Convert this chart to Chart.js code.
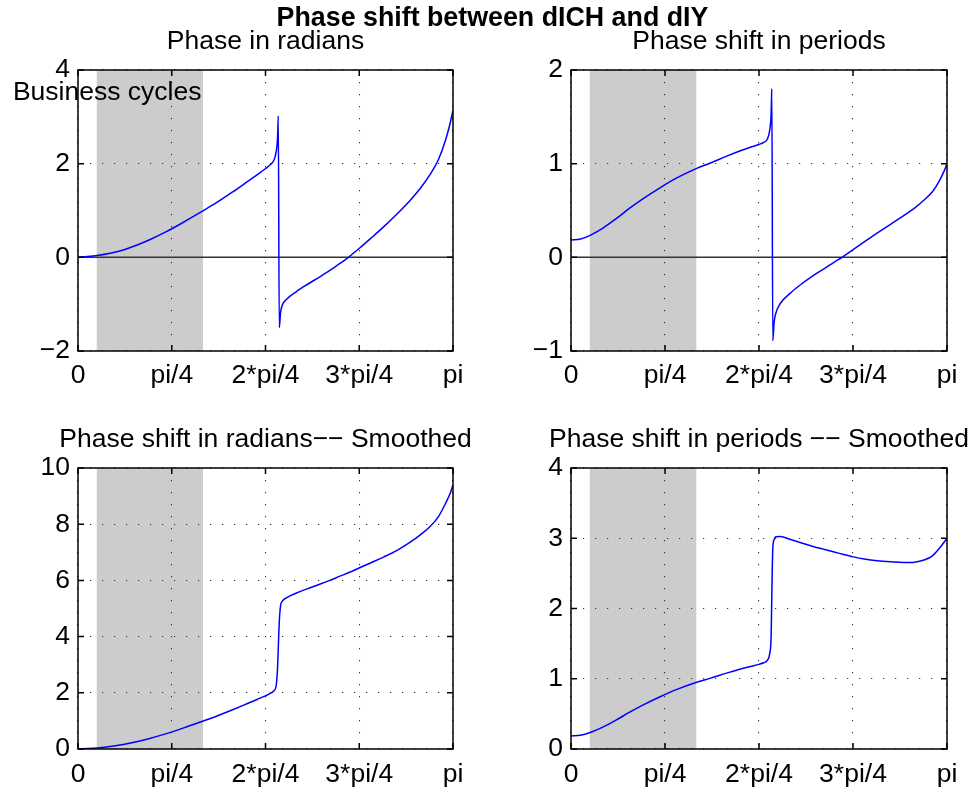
<!DOCTYPE html>
<html>
<head>
<meta charset="utf-8">
<script src="https://cdn.jsdelivr.net/npm/chart.js@4.4.1/dist/chart.umd.min.js"></script>
<style>
  body { margin: 0; background: #fff; }
  #fig { position: relative; width: 973px; height: 793px; overflow: hidden;
         font-family: 'Liberation Sans', Arial, Helvetica, sans-serif; }
  .panel { position: absolute; }
  #suptitle { position: absolute; left: 12px; width: 961px; top: 4px; text-align: center;
              font-weight: bold; font-size: 26.8px; line-height: 26px; color: #000; }
</style>
</head>
<body>
<div id="fig">
  <div class="panel" style="left:0;top:22px"><canvas id="c1" width="486" height="378"></canvas></div>
  <div class="panel" style="left:493px;top:22px"><canvas id="c2" width="480" height="378"></canvas></div>
  <div class="panel" style="left:0;top:420px"><canvas id="c3" width="486" height="373"></canvas></div>
  <div class="panel" style="left:493px;top:420px"><canvas id="c4" width="480" height="373"></canvas></div>
  <div id="suptitle">Phase shift between dICH and dIY</div>
</div>
<script>
// frequencies (radians), denser around the jump near 2*pi/4
const freq = [0, 0.08, 0.16, 0.27, 0.38, 0.49, 0.60, 0.74, 0.88, 1.05,
              1.16, 1.30, 1.41, 1.50, 1.57, 1.61, 1.64, 1.66, 1.672, 1.678,
              1.686, 1.697, 1.71, 1.75, 1.83, 1.92, 2.03, 2.11, 2.20, 2.265,
              2.36, 2.45, 2.56, 2.67, 2.78, 2.87, 2.95, 3.02, 3.08, 3.12, 3.1416];

const xTickValues = [0, Math.PI / 4, Math.PI / 2, 3 * Math.PI / 4, Math.PI];
const xTickLabels = ['0', 'pi/4', '2*pi/4', '3*pi/4', 'pi'];

// business cycle frequency band (shaded)
const cycleBand = [0.157, 1.047];

const phaseRad = [0, 0.0156, 0.0376, 0.085, 0.158, 0.257, 0.375, 0.548, 0.744, 0.998,
                  1.166, 1.404, 1.60, 1.763, 1.892, 1.977, 2.066, 2.25, 2.55, 3.02,
                  -1.50, -1.18, -1.03, -0.89, -0.73, -0.58, -0.41, -0.28, -0.12, 0,
                  0.20, 0.40, 0.65, 0.92, 1.21, 1.48, 1.77, 2.09, 2.51, 2.89, 3.14];

const phasePeriods = [0.185, 0.195, 0.235, 0.315, 0.415, 0.525, 0.625, 0.74, 0.845, 0.95,
                      1.005, 1.08, 1.135, 1.175, 1.205, 1.228, 1.26, 1.355, 1.525, 1.80,
                      -0.89, -0.695, -0.602, -0.49, -0.385, -0.29, -0.19, -0.125, -0.05, 0,
                      0.085, 0.165, 0.26, 0.352, 0.445, 0.525, 0.612, 0.70, 0.822, 0.928, 1.0];

const smoothRad = [0, 0.0156, 0.0376, 0.085, 0.158, 0.257, 0.375, 0.548, 0.744, 0.998,
                   1.166, 1.404, 1.60, 1.763, 1.892, 1.977, 2.066, 2.25, 2.9, 3.6,
                   4.5, 5.1, 5.25, 5.39, 5.55, 5.70, 5.87, 6.0, 6.16, 6.27,
                   6.45, 6.62, 6.83, 7.06, 7.35, 7.63, 7.92, 8.27, 8.75, 9.12, 9.4];

const smoothPeriods = [0.185, 0.195, 0.235, 0.315, 0.415, 0.525, 0.625, 0.74, 0.845, 0.95,
                       1.005, 1.08, 1.135, 1.175, 1.205, 1.228, 1.26, 1.355, 1.6, 2.2,
                       2.85, 2.98, 3.02, 3.025, 2.985, 2.935, 2.88, 2.845, 2.805, 2.775,
                       2.735, 2.705, 2.68, 2.665, 2.655, 2.66, 2.69, 2.75, 2.86, 2.95, 3.0];

const FONT = "'Liberation Sans', Arial, Helvetica, sans-serif";
const FONT_SIZE = 26.5;

// grey band under the grid
const bandPlugin = {
  id: 'band',
  beforeDraw(chart) {
    const { ctx, chartArea: a, scales: { x } } = chart;
    const x0 = x.getPixelForValue(cycleBand[0]);
    const x1 = x.getPixelForValue(cycleBand[1]);
    ctx.save();
    ctx.fillStyle = '#cccccc';
    ctx.fillRect(x0, a.top, x1 - x0, a.bottom - a.top);
    ctx.restore();
  }
};

// closed box with inward tick marks, panel title and optional text note
const boxPlugin = {
  id: 'box',
  afterDraw(chart, args, opts) {
    const { ctx, chartArea: a, scales: { x, y } } = chart;
    const tl = 6;
    ctx.save();
    ctx.strokeStyle = '#000';
    ctx.lineWidth = 1.5;
    ctx.strokeRect(a.left, a.top, a.right - a.left, a.bottom - a.top);
    ctx.beginPath();
    x.ticks.forEach(t => {
      const px = x.getPixelForValue(t.value);
      ctx.moveTo(px, a.bottom); ctx.lineTo(px, a.bottom - tl);
      ctx.moveTo(px, a.top); ctx.lineTo(px, a.top + tl);
    });
    y.ticks.forEach(t => {
      const py = y.getPixelForValue(t.value);
      ctx.moveTo(a.left, py); ctx.lineTo(a.left + tl, py);
      ctx.moveTo(a.right, py); ctx.lineTo(a.right - tl, py);
    });
    ctx.stroke();

    ctx.fillStyle = '#000';
    ctx.font = FONT_SIZE + 'px ' + FONT;
    ctx.textBaseline = 'alphabetic';
    // title centred over the axes box
    ctx.textAlign = 'center';
    ctx.fillText(opts.title, (a.left + a.right) / 2, opts.titleY);
    if (opts.note) {
      ctx.textAlign = 'left';
      ctx.fillText(opts.note.text, x.getPixelForValue(opts.note.x), y.getPixelForValue(opts.note.y));
    }
    ctx.restore();
  }
};

function makePanel(id, title, values, yMin, yMax, yStep, opt) {
  const datasets = [{
    data: freq.map((f, i) => ({ x: f, y: values[i] })),
    borderColor: '#0000ff',
    borderWidth: 1.5,
    pointRadius: 0,
    cubicInterpolationMode: 'monotone',
    fill: false
  }];
  if (opt.zeroLine) {
    datasets.push({
      data: [{ x: 0, y: 0 }, { x: Math.PI, y: 0 }],
      borderColor: '#333',
      borderWidth: 1.5,
      pointRadius: 0,
      fill: false
    });
  }
  new Chart(document.getElementById(id), {
    type: 'line',
    data: { datasets },
    plugins: [bandPlugin, boxPlugin],
    options: {
      responsive: false,
      animation: false,
      devicePixelRatio: 1,
      layout: { padding: { top: 48, left: 0, right: opt.padRight, bottom: 0 } },
      plugins: {
        legend: { display: false },
        tooltip: { enabled: false },
        title: { display: false },
        box: { title: title, titleY: opt.titleY, note: opt.note || null }
      },
      scales: {
        x: {
          type: 'linear',
          min: 0,
          max: Math.PI,
          afterBuildTicks: s => { s.ticks = xTickValues.map(v => ({ value: v })); },
          afterFit: s => { s.height = opt.xHeight; },
          ticks: {
            autoSkip: false,
            maxRotation: 0,
            padding: opt.xPad,
            color: '#000',
            font: { family: FONT, size: FONT_SIZE },
            callback: (v, i) => xTickLabels[i]
          },
          grid: { color: '#333', lineWidth: 1.1, drawTicks: false },
          border: { display: false, dash: [1.2, 10.8] }
        },
        y: {
          min: yMin,
          max: yMax,
          afterFit: s => { s.width = 78; },
          ticks: {
            stepSize: yStep,
            padding: 8,
            color: '#000',
            font: { family: FONT, size: FONT_SIZE },
            callback: v => String(v).replace('-', '\u2212')
          },
          grid: { color: '#333', lineWidth: 1.1, drawTicks: false },
          border: { display: false, dash: [1.2, 10.8] }
        }
      }
    }
  });
}

makePanel('c1', 'Phase in radians', phaseRad, -2, 4, 2,
  { zeroLine: true, padRight: 33, xHeight: 49, xPad: 9, titleY: 27,
    note: { text: 'Business cycles', x: -0.545, y: 3.35 } });
makePanel('c2', 'Phase shift in periods', phasePeriods, -1, 2, 1,
  { zeroLine: true, padRight: 26, xHeight: 49, xPad: 9, titleY: 27 });
makePanel('c3', 'Phase shift in radians\u2212\u2212 Smoothed', smoothRad, 0, 10, 2,
  { zeroLine: false, padRight: 33, xHeight: 44, xPad: 10, titleY: 27 });
makePanel('c4', 'Phase shift in periods \u2212\u2212 Smoothed', smoothPeriods, 0, 4, 1,
  { zeroLine: false, padRight: 26, xHeight: 44, xPad: 10, titleY: 27 });
</script>
</body>
</html>
